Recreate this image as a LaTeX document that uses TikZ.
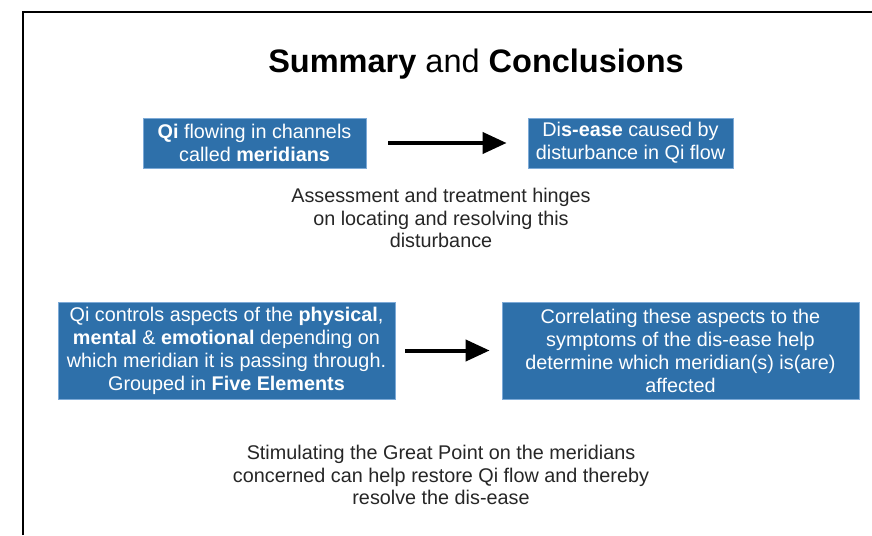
\documentclass[tikz,border=0pt]{standalone}
\usepackage{fontspec}
\setmainfont{Liberation Sans}
\usepackage{xcolor}
\usetikzlibrary{arrows.meta}

\definecolor{boxblue}{RGB}{46,112,170}
\definecolor{boxedge}{RGB}{125,170,215}

\begin{document}
\begin{tikzpicture}[x=1pt,y=-1pt,
  bluebox/.style={fill=boxblue,draw=boxedge,line width=0.8pt,text=white,align=center,
    inner sep=0pt,font=\fontsize{19.8}{23}\selectfont},
  plain/.style={align=center,text=black!85,font=\fontsize{19.8}{22.5}\selectfont},
  bigarrow/.style={line width=4pt,-{Triangle[length=24pt,width=21pt]}}]
\useasboundingbox (0,0) rectangle (872,535);
\draw[line width=1.6pt] (23,535) -- (23,12) -- (872,12);

\draw (476,64) node (title) [font=\fontsize{32.5}{38}\selectfont] {\textbf{Summary} and \textbf{Conclusions}};

\draw (254.5,143) node (qiflow) [bluebox,minimum width=223pt,minimum height=50pt]
  {\textbf{Qi} flowing in channels\\called \textbf{meridians}};
\draw (630.5,143) node (disease) [bluebox,minimum width=205pt,minimum height=50pt]
  {Di\textbf{s-ease} caused by\\disturbance in Qi flow};
\draw[bigarrow,shorten <=22pt,shorten >=21pt] (qiflow) -- (disease);

\draw (441,218) node (assess) [plain]
  {Assessment and treatment hinges\\on locating and resolving this\\disturbance};

\draw (226.5,350.5) node (control) [bluebox,minimum width=337pt,minimum height=97pt]
  {Qi controls aspects of the \textbf{physical},\\\textbf{mental} \& \textbf{emotional} depending on\\which meridian it is passing through.\\Grouped in \textbf{Five Elements}};
\draw (680.5,350.5) node (correlate) [bluebox,minimum width=357pt,minimum height=97pt]
  {Correlating these aspects to the\\symptoms of the dis-ease help\\determine which meridian(s) is(are)\\affected};
\draw[bigarrow,shorten <=10pt,shorten >=12pt] (control) -- (correlate);

\draw (441,475) node (stimulate) [plain]
  {Stimulating the Great Point on the meridians\\concerned can help restore Qi flow and thereby\\resolve the dis-ease};
\end{tikzpicture}
\end{document}
